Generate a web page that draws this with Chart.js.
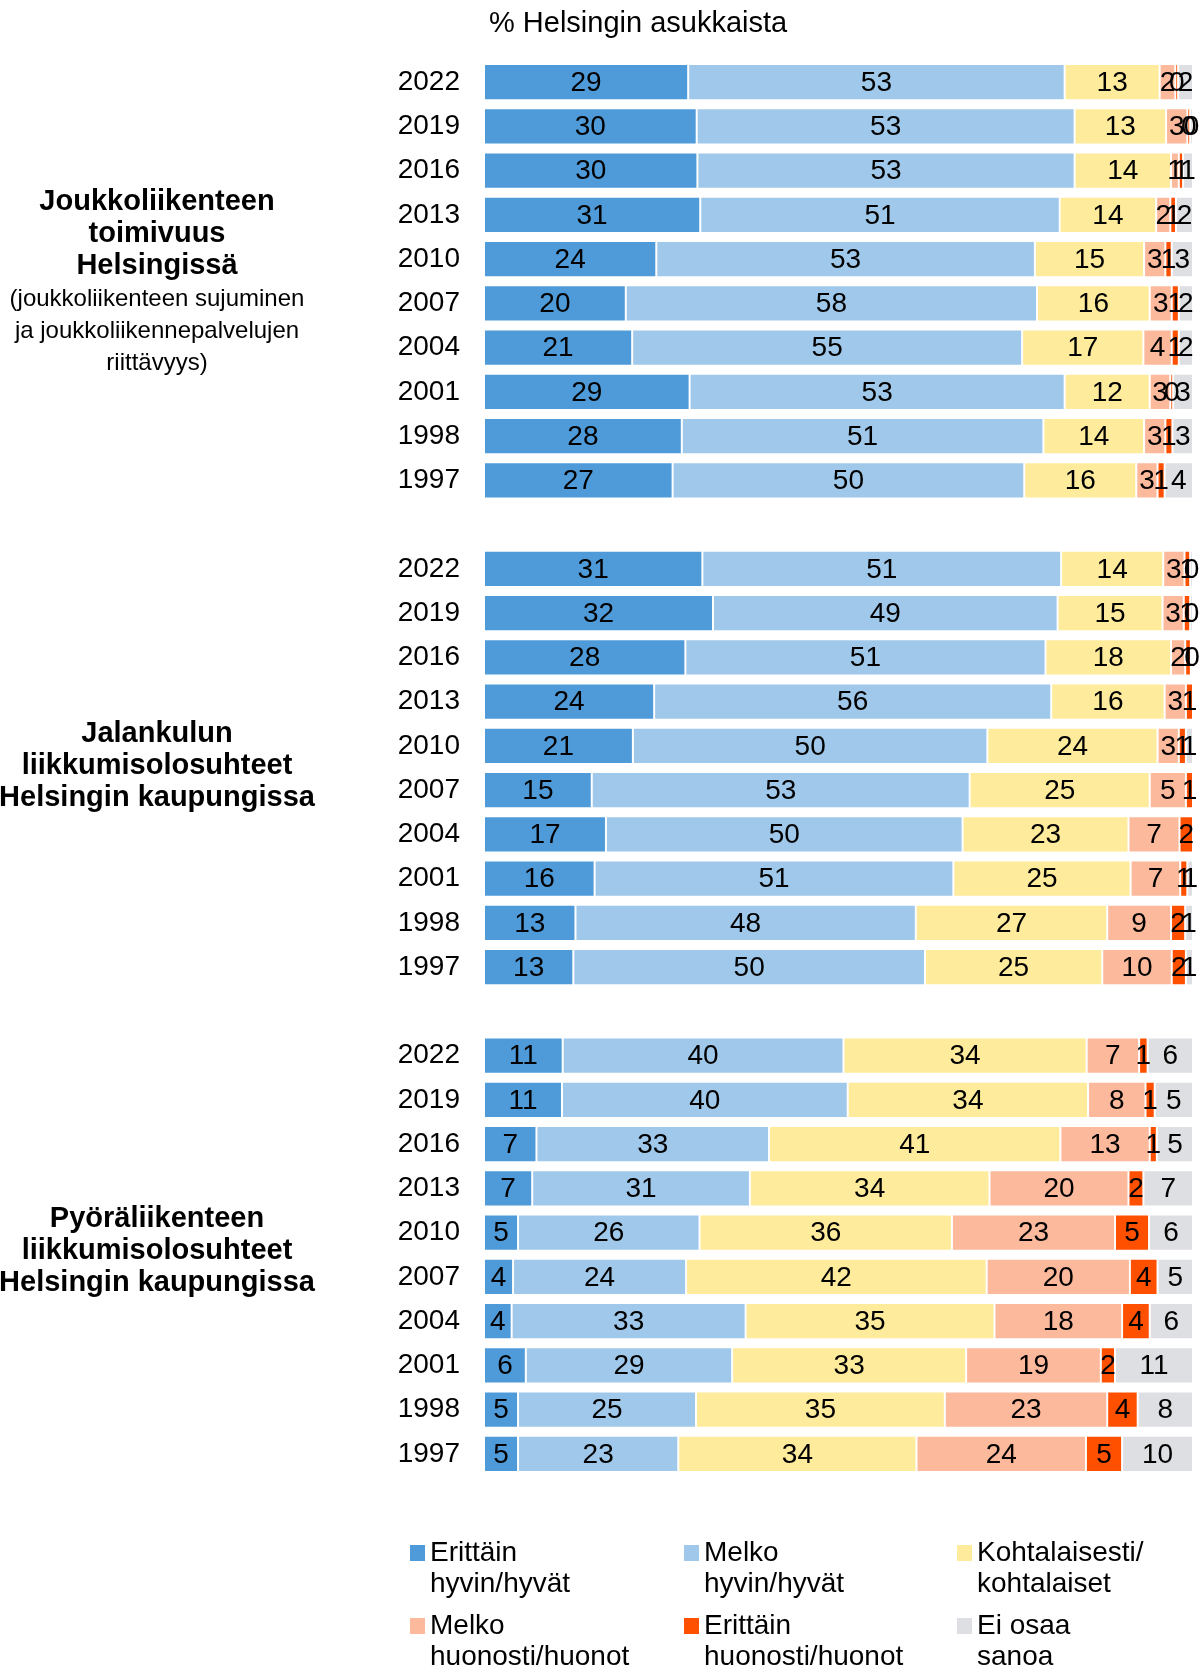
<!DOCTYPE html>
<html>
<head>
<meta charset="utf-8">
<script src="https://cdn.jsdelivr.net/npm/chart.js@4/dist/chart.umd.min.js"></script>
<style>
  html, body { margin: 0; padding: 0; background: #ffffff; }
  #wrap { position: relative; width: 1200px; height: 1668px; }
</style>
</head>
<body>
<div id="wrap"><canvas id="c" width="1200" height="1668"></canvas></div>
<script>
// ---- Data (percent of Helsinki residents) ----
const years = ['2022', '2019', '2016', '2013', '2010', '2007', '2004', '2001', '1998', '1997'];
const seriesNames = [
  ['Erittäin', 'hyvin/hyvät'],
  ['Melko', 'hyvin/hyvät'],
  ['Kohtalaisesti/', 'kohtalaiset'],
  ['Melko', 'huonosti/huonot'],
  ['Erittäin', 'huonosti/huonot'],
  ['Ei osaa', 'sanoa']
];
const axisTitle = '% Helsingin asukkaista';

// Section 1: Joukkoliikenteen toimivuus Helsingissä
const transitVeryGood  = [28.8, 30.0, 30.1, 30.5, 24.3, 20.0, 20.9, 29.0, 27.9, 26.6];
const transitFairGood  = [53.1, 53.3, 53.2, 50.7, 53.4, 58.0, 55.0, 52.9, 51.0, 49.6];
const transitModerate  = [13.4, 12.9, 13.6, 13.6, 15.4, 15.9, 17.1, 12.0, 14.2, 15.8];
const transitFairPoor  = [2.2, 3.0, 1.1, 2.0, 3.0, 3.1, 4.0, 2.9, 3.0, 3.0];
const transitVeryPoor  = [0.4, 0.4, 0.6, 0.8, 0.9, 1.0, 1.0, 0.4, 1.0, 1.0];
const transitDontKnow  = [2.1, 0.4, 1.4, 2.4, 3.0, 2.0, 2.0, 2.8, 2.9, 4.0];

// Section 2: Jalankulun liikkumisolosuhteet Helsingin kaupungissa
const walkVeryGood = [30.8, 32.3, 28.4, 24.0, 21.0, 15.2, 17.2, 15.6, 12.9, 12.6];
const walkFairGood = [50.6, 48.6, 50.8, 56.0, 50.0, 53.3, 50.3, 50.6, 48.0, 49.6];
const walkModerate = [14.4, 14.8, 17.7, 16.0, 24.0, 25.4, 23.4, 25.0, 27.0, 25.0];
const walkFairPoor = [3.0, 3.0, 2.0, 3.0, 3.0, 5.1, 7.2, 7.0, 9.0, 9.8];
const walkVeryPoor = [0.8, 0.9, 0.8, 1.0, 1.0, 1.0, 1.9, 1.0, 2.0, 2.0];
const walkDontKnow = [0.4, 0.4, 0.3, 0, 1.0, 0, 0, 0.8, 1.1, 1.0];

// Section 3: Pyöräliikenteen liikkumisolosuhteet Helsingin kaupungissa
const bikeVeryGood = [11.1, 11.0, 7.4, 6.8, 4.8, 4.1, 3.9, 5.9, 4.8, 4.8];
const bikeFairGood = [39.6, 40.3, 32.8, 30.7, 25.6, 24.4, 33.0, 29.1, 25.1, 22.6];
const bikeModerate = [34.3, 33.9, 41.1, 33.8, 35.6, 42.4, 35.1, 33.0, 35.1, 33.6];
const bikeFairPoor = [7.4, 8.1, 12.6, 19.6, 23.0, 20.2, 18.0, 19.0, 22.9, 23.9];
const bikeVeryPoor = [1.2, 1.3, 1.0, 2.1, 4.8, 3.9, 3.9, 2.0, 4.3, 5.1];
const bikeDontKnow = [6.4, 5.4, 5.1, 7.0, 6.2, 5.0, 6.1, 11.0, 7.8, 10.0];

const groupTitles = [
  { bold: ['Joukkoliikenteen', 'toimivuus', 'Helsingissä'],
    normal: ['(joukkoliikenteen sujuminen', 'ja joukkoliikennepalvelujen', 'riittävyys)'] },
  { bold: ['Jalankulun', 'liikkumisolosuhteet', 'Helsingin kaupungissa'], normal: [] },
  { bold: ['Pyöräliikenteen', 'liikkumisolosuhteet', 'Helsingin kaupungissa'], normal: [] }
];

// ---- Styles ----
const colors = ['#4f9bd9', '#9fc8ea', '#ffeb9c', '#fcb99b', '#ff5000', '#dedfe3'];
const FONT = "'Liberation Sans', Arial, Helvetica, sans-serif";

// ---- Build chart table ----
const labels = [...years, '', ...years, '', ...years];
const joinRows = (a, b, c) => [...a, null, ...b, null, ...c];
const seriesData = [
  joinRows(transitVeryGood, walkVeryGood, bikeVeryGood),
  joinRows(transitFairGood, walkFairGood, bikeFairGood),
  joinRows(transitModerate, walkModerate, bikeModerate),
  joinRows(transitFairPoor, walkFairPoor, bikeFairPoor),
  joinRows(transitVeryPoor, walkVeryPoor, bikeVeryPoor),
  joinRows(transitDontKnow, walkDontKnow, bikeDontKnow)
];

const datasets = seriesData.map((d, i) => ({
  label: seriesNames[i].join(' '),
  data: d,
  backgroundColor: colors[i],
  borderColor: 'rgba(255,255,255,0.55)',
  borderWidth: 1,
  borderSkipped: false,
  categoryPercentage: 1,
  barPercentage: 0.814
}));

const valueLabels = {
  id: 'valueLabels',
  afterDatasetsDraw(chart) {
    const ctx = chart.ctx;
    ctx.save();
    ctx.font = '28px ' + FONT;
    ctx.fillStyle = '#000';
    ctx.textAlign = 'center';
    ctx.textBaseline = 'middle';
    chart.data.datasets.forEach((ds, i) => {
      const meta = chart.getDatasetMeta(i);
      meta.data.forEach((bar, j) => {
        const v = ds.data[j];
        if (v === null || v === undefined || v === 0) return;
        const cx = (bar.x + bar.base) / 2;
        ctx.fillText(String(Math.round(v)), cx, bar.y + 1);
      });
    });
    ctx.restore();
  }
};

const sideTexts = {
  id: 'sideTexts',
  afterDraw(chart) {
    const ctx = chart.ctx;
    ctx.save();
    ctx.fillStyle = '#000';
    ctx.textBaseline = 'middle';
    // axis title
    ctx.textAlign = 'left';
    ctx.font = '29px ' + FONT;
    ctx.fillText(axisTitle, 489, 24);

    // group titles
    ctx.textAlign = 'center';
    const groupCenters = [202, 734, 1219];
    groupTitles.forEach((g, gi) => {
      let y = groupCenters[gi];
      ctx.font = 'bold 29px ' + FONT;
      g.bold.forEach(line => { ctx.fillText(line, 157, y); y += 32; });
      ctx.font = '24px ' + FONT;
      y += 1;
      g.normal.forEach(line => { ctx.fillText(line, 157, y); y += 32; });
    });

    // legend
    const colX = [410, 684, 957];
    const rowY = [1553, 1626];
    ctx.textAlign = 'left';
    ctx.font = '28px ' + FONT;
    chart.data.datasets.forEach((ds, i) => {
      const cx = colX[i % 3];
      const cy = rowY[Math.floor(i / 3)];
      ctx.fillStyle = ds.backgroundColor;
      ctx.fillRect(cx, cy - 8, 15, 16);
      ctx.fillStyle = '#000';
      seriesNames[i].forEach((line, k) => {
        ctx.fillText(line, cx + 20, cy + k * 31);
      });
    });
    ctx.restore();
  }
};

new Chart(document.getElementById('c'), {
  type: 'bar',
  data: { labels, datasets },
  options: {
    indexAxis: 'y',
    responsive: false,
    animation: false,
    devicePixelRatio: 1,
    layout: { padding: { left: 0, right: 7, top: 60, bottom: 192 } },
    plugins: {
      legend: { display: false },
      title: { display: false },
      tooltip: { enabled: false }
    },
    scales: {
      x: { stacked: true, min: 0, max: 100, display: false },
      y: {
        stacked: true,
        grid: { display: false, drawTicks: false },
        border: { display: false },
        ticks: {
          autoSkip: false,
          color: '#000',
          padding: 24,
          font: { size: 28, family: FONT }
        },
        afterFit(scale) { scale.width = 484; }
      }
    }
  },
  plugins: [valueLabels, sideTexts]
});
</script>
</body>
</html>
